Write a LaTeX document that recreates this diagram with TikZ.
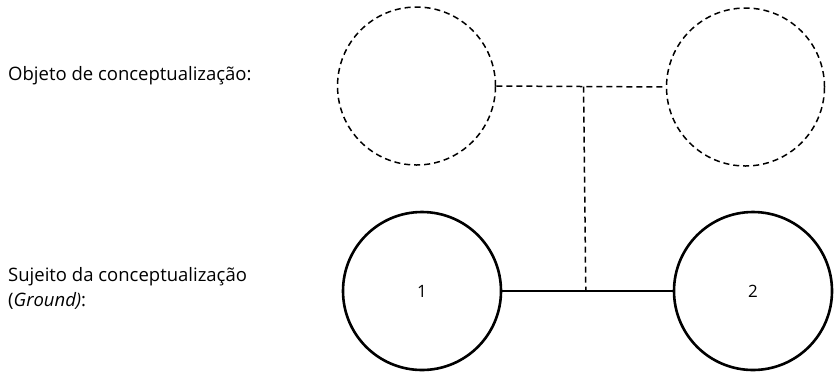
\documentclass[tikz,border=0pt]{standalone}
\usepackage{fontspec}
\setmainfont{Open Sans}
\begin{document}
\begin{tikzpicture}[x=1pt,y=-1pt,
  objc/.style={circle,draw,line width=1.5pt,minimum size=158pt,inner sep=0pt,dash pattern=on 6pt off 4pt},
  subjc/.style={circle,draw,line width=2.6pt,minimum size=158pt,inner sep=0pt,font=\fontsize{17}{20}\selectfont},
  dline/.style={line width=1.5pt,dash pattern=on 6pt off 4pt},
  sline/.style={line width=2.6pt},
  lbl/.style={anchor=west,font=\fontsize{18.5}{25}\selectfont,inner sep=0pt,align=left}]
\useasboundingbox (0,0) rectangle (834,373);
\node[objc] (o1) at (416.5,86) {};
\node[objc] (o2) at (745.5,87) {};
\node[subjc] (s1) at (422,291) {1};
\node[subjc] (s2) at (753,291) {2};
\draw[dline] (o1.east) -- (o2.west) coordinate[pos=0.515] (m);
\draw[sline] (s1.east) -- (s2.west) coordinate[pos=0.49] (n);
\draw[dline] (m) -- (n);
\node[lbl] (t1) at (8,76) {Objeto de conceptualização:};
\node[lbl] (t2) at (8,288) {Sujeito da conceptualização\\(\textit{Ground)}:};
\end{tikzpicture}
\end{document}
